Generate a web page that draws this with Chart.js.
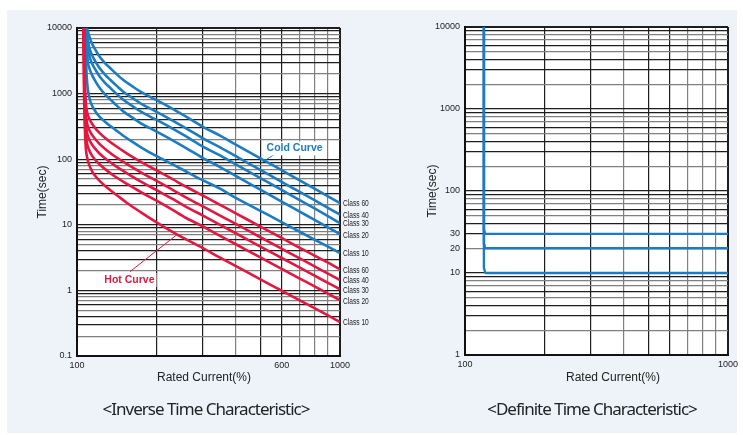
<!DOCTYPE html>
<html>
<head>
<meta charset="utf-8">
<script src="https://cdn.jsdelivr.net/npm/chart.js@4.4.1/dist/chart.umd.min.js"></script>
<style>
  body { margin: 0; background: #fff; }
  #wrap { position: relative; width: 743px; height: 435px; overflow: hidden; }
  #panel { position: absolute; left: 7px; top: 10px; width: 730px; height: 423px; background: #eef3fa; }
  .box { position: absolute; top: 0; height: 435px; }
  .lbl { position: absolute; font-family: 'Liberation Sans', Arial, sans-serif; font-size: 12px; color: #222;
         white-space: nowrap; transform: translate(-50%, -50%); }
  .sub { position: absolute; font-family: 'Noto Sans', sans-serif; font-size: 17px; color: #222;
         letter-spacing: -1px; white-space: nowrap; transform: translate(-50%, -50%); }
</style>
</head>
<body>
<div id="wrap">
  <div id="panel"></div>
  <div class="box" style="left:0;width:372px"><canvas id="inverse"></canvas></div>
  <div class="box" style="left:372px;width:371px"><canvas id="definite"></canvas></div>
  <div class="lbl" style="left:204px;top:377px">Rated Current(%)</div>
  <div class="lbl" style="left:613px;top:377px">Rated Current(%)</div>
  <div class="sub" style="left:206px;top:408px">&lt;Inverse Time Characteristic&gt;</div>
  <div class="sub" style="left:592px;top:408px">&lt;Definite Time Characteristic&gt;</div>
</div>
<script>
// ---- data: [current %, time sec] ----
const classNames = ['Class 60', 'Class 40', 'Class 30', 'Class 20', 'Class 10'];

const cold60 = [[109,10000],[111,7800],[114,5800],[118,4500],[122,3650],[128,2900],[134,2430],[142,1950],[150,1610],[162,1300],[175,1060],[200,800],[230,590],[260,445],[300,315],[350,228],[400,168],[500,102],[600,68],[700,48],[800,35.6],[900,27.2],[1000,21.5]];
const cold40 = [[108.6,10000],[110,6400],[111,5300],[114,3860],[118,3000],[122,2430],[128,1930],[134,1615],[142,1300],[150,1070],[162,865],[175,705],[200,532],[230,392],[260,296],[300,210],[350,152],[400,112],[500,68],[600,45],[700,32],[800,23.7],[900,18.1],[1000,14.3]];
const cold30 = [[108.3,10000],[109,7000],[110,4800],[111,3950],[114,2900],[118,2250],[122,1825],[128,1450],[134,1215],[142,975],[150,805],[162,650],[175,530],[200,400],[230,295],[260,222],[300,157],[350,114],[400,84],[500,51],[600,34],[700,24],[800,17.8],[900,13.6],[1000,10.6]];
const cold20 = [[108,10000],[108.6,6000],[109.3,4000],[110,3000],[111,2550],[114,1930],[118,1500],[122,1215],[128,965],[134,810],[142,650],[150,536],[162,433],[175,353],[200,266],[230,196],[260,148],[300,105],[350,76],[400,56],[500,34],[600,22.6],[700,16],[800,11.9],[900,9.1],[1000,7.2]];
const cold10 = [[107.7,10000],[108,4500],[108.5,2500],[109,1700],[110,1150],[112,800],[114,660],[118,520],[122,440],[128,370],[134,320],[142,268],[150,228],[162,185],[175,152],[200,112],[230,84],[260,65],[300,48],[350,35.5],[400,26],[500,16.2],[600,11],[700,7.9],[800,5.95],[900,4.65],[1000,3.7]];

const hot60 = [[106.3,10000],[106.8,2800],[107.5,1000],[108.5,620],[110,470],[113,370],[117,300],[122,250],[130,200],[140,160],[155,122],[175,91],[200,68],[230,50],[260,38],[300,28],[350,20.1],[400,15.1],[500,9.3],[600,6.3],[700,4.5],[800,3.4],[900,2.65],[1000,2.1]];
const hot40 = [[106.2,10000],[106.7,2200],[107.5,700],[108.5,420],[110,320],[113,250],[117,205],[122,170],[130,136],[140,109],[155,84],[175,63],[200,47],[230,34.5],[260,26],[300,19.2],[350,13.8],[400,10.4],[500,6.4],[600,4.32],[700,3.1],[800,2.33],[900,1.8],[1000,1.44]];
const hot30 = [[106.1,10000],[106.6,1800],[107.5,500],[108.5,300],[110,225],[113,178],[117,146],[122,121],[130,98],[140,79],[155,61],[175,45.5],[200,34],[230,25],[260,18.8],[300,13.9],[350,10],[400,7.5],[500,4.62],[600,3.12],[700,2.24],[800,1.68],[900,1.3],[1000,1.04]];
const hot20 = [[106,10000],[106.5,1500],[107.3,400],[108.5,205],[110,155],[113,121],[117,99],[122,83],[130,67],[140,54],[155,42],[175,31.5],[200,23.5],[230,17],[260,12.7],[300,9.5],[350,6.8],[400,5.1],[500,3.15],[600,2.13],[700,1.53],[800,1.15],[900,0.89],[1000,0.71]];
const hot10 = [[105.8,10000],[106.3,1200],[107,330],[108,150],[109,112],[111,84],[114,66],[118,54],[123,45],[130,37],[143,27.5],[155,21.5],[175,15.5],[200,11],[236,7.4],[260,6],[300,4.45],[350,3.15],[400,2.37],[500,1.46],[600,0.99],[700,0.71],[800,0.535],[900,0.415],[1000,0.33]];

const def30 = [[118,10000],[118,34],[119.5,30],[1000,30]];
const def20 = [[118,10000],[118,23],[119.5,20],[1000,20]];
const def10 = [[118,10000],[118,11.5],[119.5,10],[1000,10]];

// ---- axes: grid values and the ticks that carry a label ----
const xGrid = [100,200,300,400,500,600,700,800,900,1000];
const xLabelsInverse = [100,600,1000];
const xLabelsDefinite = [100,1000];
const yGridInverse = [0.1,0.2,0.3,0.4,0.5,0.6,0.7,0.8,0.9,1,2,3,4,5,6,7,8,9,10,20,30,40,50,60,70,80,90,
  100,200,300,400,500,600,700,800,900,1000,2000,3000,4000,5000,6000,7000,8000,9000,10000];
const yLabelsInverse = [0.1,1,10,100,1000,10000];
const yGridDefinite = yGridInverse.slice(9);
const yLabelsDefinite = [1,10,20,30,100,1000,10000];

// ---- style ----
const BLUE = '#1b7cc3', RED = '#e3173f', DEF_BLUE = '#1c7bc6';
const TICK_FONT = {family: "'Liberation Sans', Arial, sans-serif", size: 9};
const TITLE_FONT = {family: "'Liberation Sans', Arial, sans-serif", size: 12};

function sig(v) {
  const e = Math.floor(Math.log10(v) + 1e-9);
  return Math.round(v / Math.pow(10, e));
}
const darkY = [1, 3, 4, 6, 9];
const darkX = [1, 2, 3, 5, 6];

function pts(a) { return a.map(p => ({x: p[0], y: p[1]})); }

function axis(pos, min, max, grid, labels, dark, fit, extra) {
  return Object.assign({
    type: 'logarithmic', position: pos, min: min, max: max,
    afterBuildTicks: s => { s.ticks = grid.map(v => ({value: v})); },
    afterFit: s => { if (pos === 'left') s.width = fit; else s.height = fit; },
    ticks: {
      autoSkip: false, maxRotation: 0, color: '#222', font: TICK_FONT,
      padding: pos === 'left' ? 5 : 4,
      callback: v => labels.includes(v) ? String(v) : ''
    },
    grid: {
      drawTicks: false,
      color: c => (c.tick && dark.includes(sig(c.tick.value))) ? '#1e1e1e' : '#808080',
      lineWidth: c => (c.tick && (c.tick.value === max || c.tick.value === min)) ? 2 : 1.2
    },
    border: {display: true, color: '#111', width: 2}
  }, extra || {});
}

const whiteArea = {
  id: 'whiteArea',
  beforeDraw(chart) {
    const a = chart.chartArea, ctx = chart.ctx;
    ctx.save();
    ctx.fillStyle = '#fff';
    ctx.fillRect(a.left, a.top, a.right - a.left, a.bottom - a.top);
    ctx.restore();
  }
};

// class names at the right end of each curve, and the two callouts
const callouts = [
  {text: 'Cold Curve', color: BLUE, at: [526, 146], from: [503, 88.5], to: [566, 120]},
  {text: 'Hot Curve', color: RED, at: [127, 1.44], from: [159, 1.93], to: [239, 7.0]}
];
const curveNotes = {
  id: 'curveNotes',
  afterDatasetsDraw(chart) {
    const ctx = chart.ctx, xs = chart.scales.x, ys = chart.scales.y, a = chart.chartArea;
    ctx.save();
    ctx.textAlign = 'left';
    ctx.textBaseline = 'middle';
    chart.data.datasets.forEach(ds => {
      const last = ds.data[ds.data.length - 1];
      ctx.save();
      ctx.translate(a.right + 3, ys.getPixelForValue(last.y) + 1);
      ctx.scale(0.78, 1);
      ctx.font = "8.5px 'Liberation Sans', Arial, sans-serif";
      ctx.fillStyle = '#222';
      ctx.fillText(ds.label, 0, 0);
      ctx.restore();
    });
    callouts.forEach(c => {
      ctx.strokeStyle = c.color;
      ctx.lineWidth = 1;
      ctx.beginPath();
      ctx.moveTo(xs.getPixelForValue(c.from[0]), ys.getPixelForValue(c.from[1]));
      ctx.lineTo(xs.getPixelForValue(c.to[0]), ys.getPixelForValue(c.to[1]));
      ctx.stroke();
      ctx.font = "bold 10.5px 'Liberation Sans', Arial, sans-serif";
      const tx = xs.getPixelForValue(c.at[0]), ty = ys.getPixelForValue(c.at[1]);
      const w = ctx.measureText(c.text).width;
      ctx.fillStyle = '#fff';
      ctx.fillRect(tx - 2, ty - 7, w + 4, 14);
      ctx.fillStyle = c.color;
      ctx.fillText(c.text, tx, ty);
    });
    ctx.restore();
  }
};

function line(label, data, color, width) {
  return {label: label, data: pts(data), borderColor: color, borderWidth: width || 2.6,
          pointRadius: 0, showLine: true, cubicInterpolationMode: 'monotone', fill: false};
}

const common = {
  responsive: true, maintainAspectRatio: false, animation: false,
  plugins: {legend: {display: false}, tooltip: {enabled: false}}
};

new Chart(document.getElementById('inverse'), {
  type: 'scatter',
  data: {datasets: [
    line(classNames[0], hot60, RED), line(classNames[1], hot40, RED), line(classNames[2], hot30, RED),
    line(classNames[3], hot20, RED), line(classNames[4], hot10, RED),
    line(classNames[0], cold60, BLUE), line(classNames[1], cold40, BLUE), line(classNames[2], cold30, BLUE),
    line(classNames[3], cold20, BLUE), line(classNames[4], cold10, BLUE)
  ]},
  options: Object.assign({}, common, {
    layout: {padding: {left: 35, top: 28, right: 32, bottom: 65}},
    scales: {
      x: axis('bottom', 100, 1000, xGrid, xLabelsInverse, darkX, 14),
      y: axis('left', 0.1, 10000, yGridInverse, yLabelsInverse, darkY, 42,
              {title: {display: true, text: 'Time(sec)', color: '#222', font: TITLE_FONT, padding: 0}})
    }
  }),
  plugins: [whiteArea, curveNotes]
});

new Chart(document.getElementById('definite'), {
  type: 'scatter',
  data: {datasets: [
    line('30', def30, DEF_BLUE, 2.4), line('20', def20, DEF_BLUE, 2.4), line('10', def10, DEF_BLUE, 2.4)
  ]},
  options: Object.assign({}, common, {
    layout: {padding: {left: 53, top: 27, right: 15, bottom: 66}},
    scales: {
      x: axis('bottom', 100, 1000, xGrid, xLabelsDefinite, darkX, 14),
      y: axis('left', 1, 10000, yGridDefinite, yLabelsDefinite, darkY, 40,
              {title: {display: true, text: 'Time(sec)', color: '#222', font: TITLE_FONT, padding: 0}})
    }
  }),
  plugins: [whiteArea]
});
</script>
</body>
</html>
